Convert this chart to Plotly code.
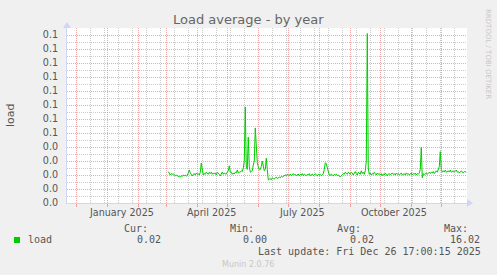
import pandas as pd
import plotly.graph_objects as go

# ---------------- data ----------------
series_name = "load"
series_start = "2025-03-03"          # first daily sample
load_values = [  # daily load average values
    0.0224, 0.0210, 0.0200, 0.0210, 0.0205, 0.0207, 0.0200, 0.0195, 0.0198, 0.0193,
    0.0190, 0.0188, 0.0186, 0.0195, 0.0190, 0.0200, 0.0195, 0.0200, 0.0192, 0.0196,
    0.0215, 0.0236, 0.0215, 0.0200, 0.0193, 0.0205, 0.0210, 0.0200, 0.0214, 0.0205,
    0.0210, 0.0200, 0.0220, 0.0286, 0.0230, 0.0200, 0.0210, 0.0205, 0.0220, 0.0214,
    0.0205, 0.0220, 0.0210, 0.0220, 0.0205, 0.0215, 0.0207, 0.0215, 0.0200, 0.0220,
    0.0215, 0.0205, 0.0193, 0.0210, 0.0221, 0.0205, 0.0215, 0.0207, 0.0207, 0.0220,
    0.0230, 0.0266, 0.0220, 0.0220, 0.0205, 0.0215, 0.0207, 0.0220, 0.0215, 0.0236,
    0.0215, 0.0220, 0.0220, 0.0230, 0.0225, 0.0250, 0.0300, 0.0686, 0.0257, 0.0240,
    0.0470, 0.0260, 0.0220, 0.0225, 0.0230, 0.0270, 0.0300, 0.0536, 0.0350, 0.0290,
    0.0260, 0.0236, 0.0240, 0.0260, 0.0300, 0.0250, 0.0230, 0.0240, 0.0320, 0.0240,
    0.0164, 0.0170, 0.0175, 0.0165, 0.0180, 0.0175, 0.0170, 0.0180, 0.0185, 0.0175,
    0.0180, 0.0185, 0.0180, 0.0190, 0.0185, 0.0190, 0.0195, 0.0200, 0.0195, 0.0205,
    0.0200, 0.0195, 0.0207, 0.0195, 0.0200, 0.0210, 0.0200, 0.0205, 0.0195, 0.0200,
    0.0207, 0.0193, 0.0205, 0.0200, 0.0210, 0.0195, 0.0207, 0.0200, 0.0195, 0.0205,
    0.0200, 0.0210, 0.0195, 0.0200, 0.0207, 0.0195, 0.0200, 0.0210, 0.0200, 0.0193,
    0.0205, 0.0200, 0.0205, 0.0195, 0.0200, 0.0210, 0.0240, 0.0288, 0.0280, 0.0250,
    0.0220, 0.0200, 0.0195, 0.0207, 0.0200, 0.0193, 0.0205, 0.0200, 0.0207, 0.0195,
    0.0200, 0.0190, 0.0185, 0.0195, 0.0205, 0.0210, 0.0205, 0.0220, 0.0210, 0.0205,
    0.0220, 0.0210, 0.0205, 0.0220, 0.0214, 0.0200, 0.0210, 0.0225, 0.0210, 0.0200,
    0.0220, 0.0215, 0.0205, 0.0230, 0.0210, 0.0220, 0.0205, 0.0230, 0.0300, 0.1210,
    0.0250, 0.0205, 0.0215, 0.0200, 0.0210, 0.0205, 0.0220, 0.0210, 0.0200, 0.0215,
    0.0205, 0.0210, 0.0200, 0.0210, 0.0195, 0.0207, 0.0200, 0.0214, 0.0205, 0.0193,
    0.0207, 0.0210, 0.0200, 0.0207, 0.0215, 0.0205, 0.0210, 0.0200, 0.0214, 0.0205,
    0.0210, 0.0200, 0.0207, 0.0214, 0.0200, 0.0205, 0.0210, 0.0200, 0.0215, 0.0205,
    0.0210, 0.0200, 0.0207, 0.0214, 0.0200, 0.0210, 0.0205, 0.0214, 0.0200, 0.0210,
    0.0205, 0.0214, 0.0240, 0.0398, 0.0180, 0.0210, 0.0200, 0.0207, 0.0214, 0.0205,
    0.0210, 0.0220, 0.0210, 0.0221, 0.0214, 0.0225, 0.0210, 0.0220, 0.0230, 0.0220,
    0.0235, 0.0260, 0.0367, 0.0240, 0.0220, 0.0230, 0.0221, 0.0235, 0.0220, 0.0225,
    0.0230, 0.0221, 0.0235, 0.0220, 0.0228, 0.0230, 0.0220, 0.0225, 0.0235, 0.0220,
    0.0225, 0.0214, 0.0225, 0.0230, 0.0220, 0.0215, 0.0225, 0.0220, 0.0220,
]
x_range = ["2024-11-21 17:00:15", "2025-12-26 17:00:15"]
month_grid_start = "2024-12-01"
minor_grid_start = "2024-12-15"
x_label_dates = ["2025-01-15", "2025-04-15", "2025-07-15", "2025-10-15"]
x_label_texts = ["January 2025", "April 2025", "July 2025", "October 2025"]
y_tick_values = [0.00, 0.01, 0.02, 0.03, 0.04, 0.05, 0.06, 0.07, 0.08, 0.09, 0.10, 0.11, 0.12]
y_tick_texts = ["0.0", "0.0", "0.0", "0.0", "0.0", "0.1", "0.1", "0.1", "0.1", "0.1", "0.1", "0.1", "0.1"]
y_range = [0, 0.125]
stat_labels = ["Cur:", "Min:", "Avg:", "Max:"]
stat_values = ["0.02", "0.00", "0.02", "16.02"]
title_text = "Load average - by year"
y_title = "load"
last_update = "Last update: Fri Dec 26 17:00:15 2025"
version_text = "Munin 2.0.76"
watermark = "RRDTOOL / TOBI OETIKER"

# ---------------- layout helpers ----------------
W, H = 497, 275
L, R, T, B = 67, 467, 28, 203
GREEN = "#00CC00"
AXIS = "#CFD6F8"
FONT = "#555555"
MGRID = "rgba(230,120,120,0.65)"
GRID = "rgba(140,140,140,0.45)"
DASH = "1px,1px"


def px(x):
    return (x - L) / (R - L)


def py(y):
    return (B - y) / (B - T)


dates = pd.date_range(series_start, periods=len(load_values), freq="D")
y_minor_values = [v + 0.005 for v in y_tick_values]  # half-step grid between labelled lines

fig = go.Figure()
fig.add_trace(go.Scatter(x=dates, y=load_values, mode="lines", name=series_name,
                         line=dict(color=GREEN, width=1), hoverinfo="skip"))

mono = dict(family="DejaVu Sans Mono", size=10, color=FONT)
ann = []
# x-axis month labels (centred on mid-month)
for d, t in zip(x_label_dates, x_label_texts):
    ann.append(dict(text=t, x=d, xref="x", y=py(212), yref="paper", xanchor="center",
                    yanchor="middle",
                    font=dict(family="DejaVu Sans", size=9.6, color=FONT)))
ann.append(dict(text=title_text, x=px(248), y=py(19), xanchor="center", yanchor="middle",
                font=dict(family="DejaVu Sans", size=13, color="#666666")))
ann.append(dict(text=y_title, x=px(10), y=py(115), xanchor="center", yanchor="middle",
                textangle=-90, font=dict(family="DejaVu Sans", size=11, color=FONT)))
ann.append(dict(text=watermark, x=px(488), y=py(54), xanchor="center", yanchor="middle",
                textangle=90, font=dict(family="DejaVu Sans", size=7, color="#C8C8C8")))
label_right = [150, 256, 363, 470]
value_right = [163, 269, 376, 482]
for lab, val, lr, vr in zip(stat_labels, stat_values, label_right, value_right):
    ann.append(dict(text=lab, x=px(lr), y=py(228), xanchor="right", yanchor="middle", font=mono))
    ann.append(dict(text=val, x=px(vr), y=py(239), xanchor="right", yanchor="middle", font=mono))
ann.append(dict(text=series_name, x=px(26), y=py(239), xanchor="left", yanchor="middle", font=mono))
ann.append(dict(text=last_update, x=px(483), y=py(251), xanchor="right", yanchor="middle", font=mono))
ann.append(dict(text=version_text, x=px(248), y=py(264), xanchor="center", yanchor="middle",
                font=dict(family="DejaVu Sans", size=8, color="#C8C8C8")))
for a in ann:
    a.setdefault("xref", "paper")
    a.setdefault("yref", "paper")
    a["showarrow"] = False

shapes = [
    # legend colour box
    dict(type="rect", xref="paper", yref="paper", x0=px(14), x1=px(20), y0=py(243), y1=py(237),
         fillcolor=GREEN, line=dict(width=0)),
    # x axis arrow
    dict(type="path", xref="paper", yref="paper",
         path=f"M {px(467)} {py(199)} L {px(473)} {py(203)} L {px(467)} {py(207)} Z",
         fillcolor=AXIS, line=dict(width=0)),
    # y axis arrow
    dict(type="path", xref="paper", yref="paper",
         path=f"M {px(63)} {py(28)} L {px(67)} {py(22)} L {px(71)} {py(28)} Z",
         fillcolor=AXIS, line=dict(width=0)),
]

fig.update_layout(
    width=W, height=H,
    margin=dict(l=L, r=W - R, t=T, b=H - B, pad=0),
    paper_bgcolor="#F0F0F0", plot_bgcolor="#FFFFFF",
    showlegend=False,
    annotations=ann, shapes=shapes,
    xaxis=dict(type="date", range=x_range, showticklabels=False,
               tick0=month_grid_start, dtick="M1",
               showgrid=True, gridcolor=MGRID, griddash=DASH, gridwidth=1,
               ticks="outside", ticklen=3, tickcolor=MGRID,
               minor=dict(tick0=minor_grid_start, dtick=14 * 86400000, showgrid=True,
                          gridcolor=GRID, griddash=DASH),
               showline=True, linecolor=AXIS, linewidth=1, zeroline=False),
    yaxis=dict(range=y_range, tickvals=y_tick_values, ticktext=y_tick_texts,
               showgrid=True, gridcolor=MGRID, griddash=DASH, gridwidth=1,
               minor=dict(tickmode="array", tickvals=y_minor_values, showgrid=True,
                          gridcolor=GRID, griddash=DASH),
               ticks="", ticklabelstandoff=6,
               tickfont=dict(family="DejaVu Sans", size=9.6, color=FONT),
               showline=True, linecolor=AXIS, linewidth=1, zeroline=False),
)

fig.write_html("out.html")
